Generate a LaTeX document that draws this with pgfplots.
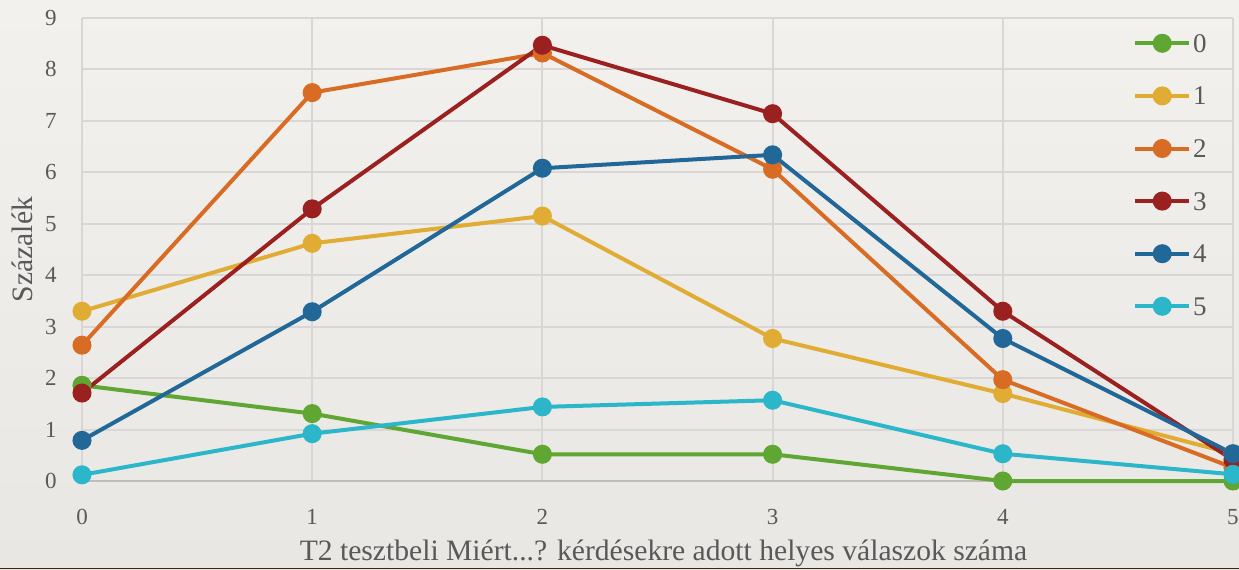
\documentclass[border=0pt]{standalone}
\usepackage{fontspec}
\setmainfont{Liberation Serif}
\usepackage{pgfplots}
\pgfplotsset{compat=1.18}
\definecolor{bgtop}{RGB}{242,241,238}
\definecolor{bgbot}{RGB}{232,231,227}
\definecolor{gridc}{RGB}{216,215,214}
\definecolor{axisc}{RGB}{190,189,187}
\definecolor{textc}{RGB}{89,89,89}
\definecolor{c0}{RGB}{95,166,50}
\definecolor{c1}{RGB}{224,172,52}
\definecolor{c2}{RGB}{216,108,36}
\definecolor{c3}{RGB}{155,32,32}
\definecolor{c4}{RGB}{33,103,151}
\definecolor{c5}{RGB}{44,182,201}
\begin{document}
\begin{tikzpicture}[x=1pt,y=1pt]
\shade[top color=bgtop, bottom color=bgbot] (0,0) rectangle (619.5,284.5);
\fill[black!70!brown] (0,0) rectangle (619.5,0.6);
\begin{axis}[
  at={(41pt,44pt)}, anchor=south west,
  width=575.5pt, height=231.5pt, scale only axis,
  xmin=0, xmax=5, ymin=0, ymax=9,
  xtick={0,1,2,3,4,5}, ytick={0,1,2,3,4,5,6,7,8,9},
  grid=major, major grid style={draw=gridc, line width=1pt},
  axis line style={draw=none},
  major tick length=0pt, tick style={draw=none},
  clip=false,
  /pgf/number format/assume math mode=true,
  ticklabel style={font=\fontsize{11.5}{13}\selectfont, text=textc},
  xticklabel style={anchor=center, yshift=-18pt},
  yticklabel style={anchor=center, xshift=-15.5pt},
  xlabel={T2 tesztbeli Miért...? kérdésekre adott helyes válaszok száma},
  ylabel={Százalék},
  label style={font=\fontsize{14.8}{16}\selectfont, text=textc},
  xlabel style={at={(axis description cs:0.5,0)}, anchor=center, yshift=-36pt, xshift=3pt},
  ylabel style={at={(axis description cs:-0.0521,0.5)}, anchor=center},
  every axis plot/.append style={line width=2pt, mark=*, mark size=3.75pt, mark options={solid, draw=none}},
  legend style={at={(axis description cs:0.913,0.970)}, anchor=north west,
    draw=none, fill=none, inner sep=0pt, row sep=15.3pt,
    font=\fontsize{13.5}{15}\selectfont, text=textc,
    nodes={inner sep=1pt, text height=9pt, text depth=0pt}},
  legend cell align=left,
  legend image code/.code={\draw[mark repeat=2, mark phase=2, #1] plot coordinates {(0pt,0pt) (13.5pt,0pt) (27pt,0pt)};},
]
\draw[axisc, line width=1pt] (axis cs:0,0) -- (axis cs:5,0);
\addplot[color=c0, mark options={fill=c0}] coordinates {(0,1.86) (1,1.31) (2,0.52) (3,0.52) (4,0) (5,0)};
\addlegendentry{0}
\addplot[color=c1, mark options={fill=c1}] coordinates {(0,3.30) (1,4.62) (2,5.15) (3,2.77) (4,1.70) (5,0.53)};
\addlegendentry{1}
\addplot[color=c2, mark options={fill=c2}] coordinates {(0,2.64) (1,7.55) (2,8.32) (3,6.06) (4,1.97) (5,0.26)};
\addlegendentry{2}
\addplot[color=c3, mark options={fill=c3}] coordinates {(0,1.71) (1,5.29) (2,8.47) (3,7.14) (4,3.30) (5,0.41)};
\addlegendentry{3}
\addplot[color=c4, mark options={fill=c4}] coordinates {(0,0.79) (1,3.29) (2,6.08) (3,6.34) (4,2.77) (5,0.53)};
\addlegendentry{4}
\addplot[color=c5, mark options={fill=c5}] coordinates {(0,0.12) (1,0.92) (2,1.44) (3,1.57) (4,0.53) (5,0.13)};
\addlegendentry{5}
\end{axis}
\pgfresetboundingbox
\useasboundingbox (0,0) rectangle (619.5,284.5);
\end{tikzpicture}
\end{document}
